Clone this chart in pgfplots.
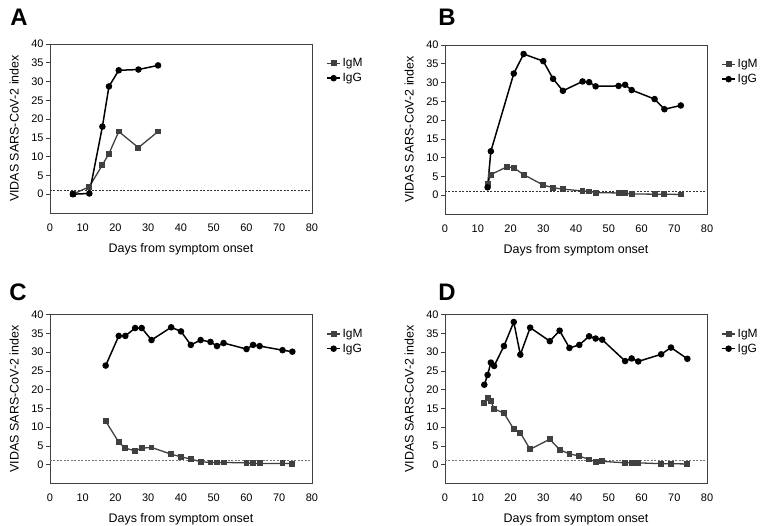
\documentclass[border=0pt]{standalone}
\usepackage{pgfplots}
\pgfplotsset{compat=1.18}
\usepackage{fontspec}
\setmainfont{Liberation Sans}
\definecolor{igm}{HTML}{404040}
\pgfplotsset{
 panel/.style={
  scale only axis, width=262bp, height=169bp,
  anchor=south west,
  xmin=0,xmax=80,ymin=-5,ymax=40,
  xtick={0,10,...,80}, ytick={0,5,...,40},
  ytick pos=left,
  tick align=outside, major tick length=4bp,
  xtick style={draw=none},
  ytick style={black!75, line width=0.6pt},
  axis line style={black!75, line width=0.8pt},
  tick label style={font=\fontsize{11}{13}\selectfont},
  /pgf/number format/assume math mode=true,
  yticklabel style={xshift=1bp},
  xticklabel style={yshift=-3bp},
  xlabel={Days from symptom onset},
  ylabel={VIDAS SARS-CoV-2 index},
  label style={font=\fontsize{12.5}{14}\selectfont},
  xlabel style={at={(axis description cs:0.5,-0.213)},anchor=center},
  ylabel style={at={(axis description cs:-0.137,0.5)},anchor=center},
  legend style={draw=none, fill=none, at={(1.053,0.915)}, anchor=north west,
    font=\fontsize{12}{14}\selectfont, row sep=5pt, inner sep=0pt,
    nodes={inner xsep=1.5pt, inner ysep=0pt}},
  legend cell align=left,
  legend image code/.code={\draw[mark repeat=2,mark phase=2] plot coordinates {(0cm,0cm) (0.24cm,0cm) (0.48cm,0cm)};},
 },
 igmplot/.style={igm, line width=1.3pt, mark=square*, mark size=2.3pt, mark options={solid}},
 iggplot/.style={black, line width=1.5pt, mark=*, mark size=2.5pt, mark options={solid}},
 cut/.style={dash pattern=on 2pt off 1.5pt, line width=0.6pt, forget plot},
}
\begin{document}
\begin{tikzpicture}
\useasboundingbox (0,0) rectangle (760bp,526bp);
% Panel A
\begin{axis}[panel, at={(50bp,313bp)}]
\addplot[cut, black!80] coordinates {(0,1) (80,1)};
\addplot[igmplot] coordinates {(7,0) (12,2) (16,7.8) (18,10.8) (21,16.7) (27,12.4) (33,16.7)};
\addplot[iggplot] coordinates {(7,0) (12,0.2) (16,18) (18,28.7) (21,33) (27,33.2) (33,34.3)};
\legend{IgM,IgG}
\end{axis}
% Panel B
\begin{axis}[panel, at={(445bp,312bp)}]
\addplot[cut, black!80] coordinates {(0,1) (80,1)};
\addplot[igmplot] coordinates {(13,3.0) (14,5.5) (19,7.6) (21,7.3) (24,5.5) (30,2.7) (33,2.0) (36,1.6) (42,1.15) (44,1.0) (46,0.7) (53,0.6) (55,0.5) (57,0.35) (64,0.27) (67,0.27) (72,0.2)};
\addplot[iggplot] coordinates {(13,2.1) (14,11.7) (21,32.4) (24,37.6) (30,35.7) (33,31.0) (36,27.8) (42,30.3) (44,30.1) (46,29.0) (53,29.1) (55,29.4) (57,28.0) (64,25.6) (67,22.9) (72,23.9)};
\legend{IgM,IgG}
\end{axis}
% Panel C
\begin{axis}[panel, at={(50bp,42.5bp)}]
\addplot[cut, black!55] coordinates {(0,1.2) (80,1.2)};
\addplot[igmplot] coordinates {(17,11.6) (21,6.0) (23,4.4) (26,3.7) (28,4.4) (31,4.6) (37,2.8) (40,2.1) (43,1.5) (46,0.8) (49,0.6) (51,0.6) (53,0.6) (60,0.5) (62,0.35) (64,0.35) (71,0.35) (74,0.3)};
\addplot[iggplot] coordinates {(17,26.4) (21,34.3) (23,34.3) (26,36.4) (28,36.4) (31,33.2) (37,36.6) (40,35.5) (43,31.9) (46,33.2) (49,32.7) (51,31.6) (53,32.4) (60,30.8) (62,31.9) (64,31.6) (71,30.5) (74,30.1)};
\legend{IgM,IgG}
\end{axis}
% Panel D
\begin{axis}[panel, at={(445bp,42.5bp)}]
\addplot[cut, black!55] coordinates {(0,1.2) (80,1.2)};
\addplot[igmplot] coordinates {(12,16.5) (13,17.7) (14,16.9) (15,14.9) (18,13.7) (21,9.5) (23,8.5) (26,4.1) (32,6.8) (35,4.0) (38,2.9) (41,2.3) (44,1.4) (46,0.8) (48,0.9) (55,0.5) (57,0.5) (59,0.5) (66,0.27) (69,0.27) (74,0.2)};
\addplot[iggplot] coordinates {(12,21.3) (13,23.9) (14,27.2) (15,26.3) (18,31.6) (21,38.0) (23,29.3) (26,36.5) (32,32.9) (35,35.7) (38,31.1) (41,31.9) (44,34.2) (46,33.6) (48,33.3) (55,27.6) (57,28.3) (59,27.5) (66,29.4) (69,31.2) (74,28.2)};
\legend{IgM,IgG}
\end{axis}
\node[font=\bfseries\fontsize{24}{26}\selectfont] at (19bp,509bp) {A};
\node[font=\bfseries\fontsize{24}{26}\selectfont] at (447bp,509bp) {B};
\node[font=\bfseries\fontsize{24}{26}\selectfont] at (18bp,234bp) {C};
\node[font=\bfseries\fontsize{24}{26}\selectfont] at (447bp,234bp) {D};
\end{tikzpicture}
\end{document}
